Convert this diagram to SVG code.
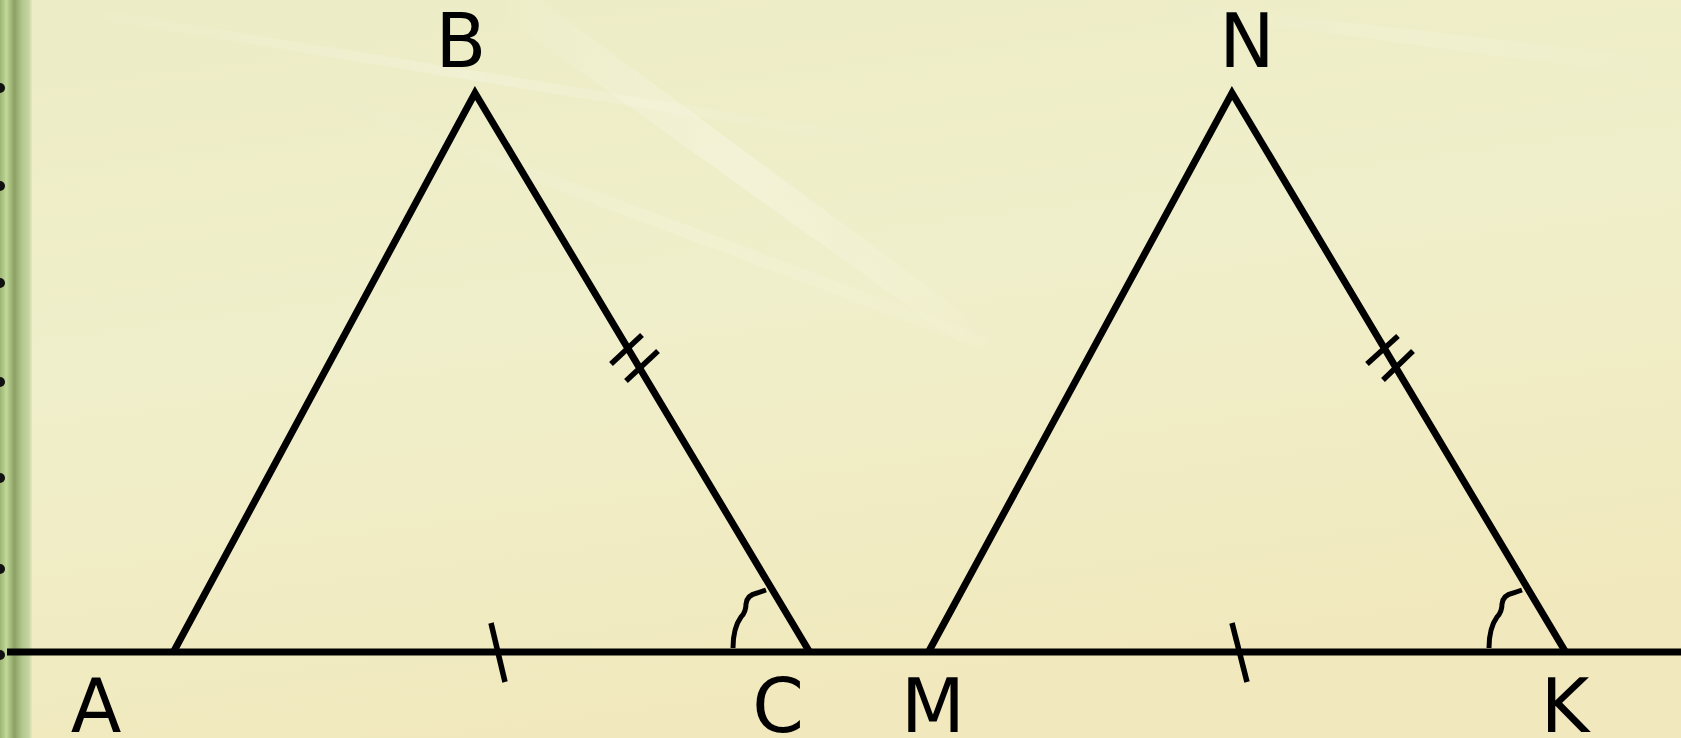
<svg xmlns="http://www.w3.org/2000/svg" width="1681" height="738" viewBox="0 0 1681 738">
  <defs>
    <linearGradient id="bg" x1="0" y1="0" x2="0.3" y2="1">
      <stop offset="0" stop-color="#ececc6"/>
      <stop offset="0.5" stop-color="#f0efcb"/>
      <stop offset="1" stop-color="#f1e9bd"/>
    </linearGradient>
    <linearGradient id="strip" x1="0" y1="0" x2="1" y2="0">
      <stop offset="0" stop-color="#9cb474"/>
      <stop offset="0.2" stop-color="#c0d898"/>
      <stop offset="0.45" stop-color="#8ca064"/>
      <stop offset="0.7" stop-color="#b4c890"/>
      <stop offset="0.9" stop-color="#c6d4a2"/>
      <stop offset="1" stop-color="#e4e8c0"/>
    </linearGradient>
    <linearGradient id="streak" x1="0" y1="0" x2="1" y2="0">
      <stop offset="0" stop-color="#ffffff" stop-opacity="0"/>
      <stop offset="0.5" stop-color="#ffffff" stop-opacity="0.25"/>
      <stop offset="1" stop-color="#ffffff" stop-opacity="0"/>
    </linearGradient>
    <style>
      .edge { stroke: #000; stroke-width: 7; fill: none; stroke-linecap: butt; stroke-linejoin: miter; }
      .tick { stroke: #000; stroke-width: 5.5; fill: none; }
      .angle { stroke: #000; stroke-width: 5; fill: none; stroke-linecap: butt; }
      .lbl { font-family: "DejaVu Sans", sans-serif; font-size: 74px; fill: #000; text-anchor: middle; }
    </style>
  </defs>

  <g id="background">
    <rect width="1681" height="738" fill="url(#bg)"/>
    <path d="M540,0 L1000,340 L970,350 L480,0 Z" fill="url(#streak)"/>
    <path d="M40,0 L900,140 L900,150 L40,10 Z" fill="url(#streak)" opacity="0.8"/>
    <path d="M300,80 L1100,380 L1090,390 L290,90 Z" fill="url(#streak)" opacity="0.5"/>
    <path d="M1150,0 L1681,60 L1681,80 L1150,10 Z" fill="url(#streak)" opacity="0.5"/>
    <rect x="0" y="0" width="32" height="738" fill="url(#strip)"/>
    <g fill="#111">
      <circle cx="0" cy="88" r="5"/>
      <circle cx="0" cy="186" r="5"/>
      <circle cx="0" cy="283" r="5"/>
      <circle cx="0" cy="382" r="5"/>
      <circle cx="0" cy="478" r="5"/>
      <circle cx="0" cy="569" r="5"/>
      <circle cx="0" cy="655" r="5"/>
    </g>
  </g>

  <g id="connectors">
    <line id="baseline" x1="7" y1="652" x2="1681" y2="652" stroke="#000" stroke-width="7"/>
    <polyline id="tri-ABC" class="edge" points="174,651 475,93 809,651"/>
    <polyline id="tri-MNK" class="edge" points="929,651 1232,93 1565,651"/>
    <g id="ticks-BC">
      <line class="tick" x1="611" y1="364" x2="642" y2="335"/>
      <line class="tick" x1="626" y1="381" x2="658" y2="351"/>
    </g>
    <g id="ticks-NK">
      <line class="tick" x1="1367" y1="364" x2="1398" y2="336"/>
      <line class="tick" x1="1383" y1="380" x2="1413" y2="351"/>
    </g>
    <line id="tick-AC" class="tick" x1="491" y1="623" x2="505" y2="682"/>
    <line id="tick-MK" class="tick" x1="1232" y1="623" x2="1247" y2="682"/>
    <path id="angle-C" class="angle" d="M733,648 Q733,628 741,617 Q746,612 746,604 Q747,595 757,593 L766,590"/>
    <path id="angle-K" class="angle" d="M1489,648 Q1489,628 1497,617 Q1502,612 1502,604 Q1503,595 1513,593 L1522,590"/>
  </g>

  <g id="node-A"><text class="lbl" x="96" y="732">A</text></g>
  <g id="node-B"><text class="lbl" x="461" y="67">B</text></g>
  <g id="node-C"><text class="lbl" x="778" y="732">C</text></g>
  <g id="node-M"><text class="lbl" x="933" y="732">M</text></g>
  <g id="node-N"><text class="lbl" x="1247" y="67">N</text></g>
  <g id="node-K"><text class="lbl" x="1565" y="732">K</text></g>
</svg>
